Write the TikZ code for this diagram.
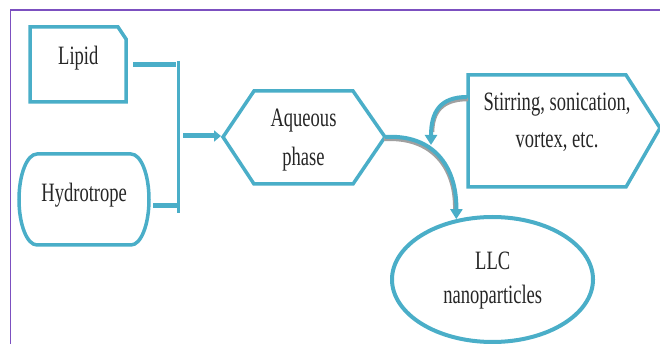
\documentclass[tikz,border=0pt]{standalone}
\usepackage{fontspec}
\newfontfamily\cond[FakeStretch=0.7]{Liberation Serif}
\usetikzlibrary{arrows.meta,shapes.geometric}
\definecolor{tealA}{RGB}{74,174,200}
\definecolor{frameP}{RGB}{124,80,192}
\definecolor{shadowG}{RGB}{160,160,160}
\begin{document}
\begin{tikzpicture}[x=1pt,y=-1pt,
  box/.style={draw=tealA, line width=3.5pt, line join=miter},
  lbl/.style={font=\cond\fontsize{26.5}{37}\selectfont, text=black!85, align=center, anchor=base, inner sep=0pt},
  bar/.style={draw=tealA, line width=5pt},
  thinbar/.style={draw=tealA, line width=2.5pt},
  curvearrow/.style={draw=tealA, line width=4pt, -{Triangle[width=12pt,length=10pt]}},
  shadowline/.style={draw=shadowG, line width=3.5pt}
]
\useasboundingbox (0,0) rectangle (660,344);
% frame
\draw[frameP, line width=1.2pt] (10.5,344) -- (10.5,10) -- (660,10);

% Lipid box
\draw[box] (30,27) -- (118,27) -- (126,39) -- (126,102) -- (30,102) -- cycle;
\node[lbl] (lipid) at (78.3,64.3) {Lipid};

% Hydrotrope (rounded box with elliptical corners)
\draw[box] (37,154) -- (131,154)
  .. controls (141,154) and (149,174.5) .. (149,199.5)
  .. controls (149,224.5) and (141,245) .. (131,245)
  -- (37,245)
  .. controls (27,245) and (19,224.5) .. (19,199.5)
  .. controls (19,174.5) and (27,154) .. (37,154) -- cycle;
\node[lbl] (hydro) at (84.2,201.7) {Hydrotrope};

% Aqueous phase hexagon
\draw[box] (223,137) -- (254,91) -- (353,91) -- (385,137) -- (353,184) -- (254,184) -- cycle;
\coordinate (aqW) at (221,136);
\coordinate (aqE) at (385,137);
\node[lbl, font=\cond\fontsize{26.5}{39}\selectfont] (aq) at (303.5,166) {Aqueous\\phase};

% Stirring box
\draw[box] (468,75) -- (626,75) -- (660,128) -- (626,187) -- (468,187) -- cycle;
\coordinate (stW) at (467,97);
\node[lbl, font=\cond\fontsize{26.5}{36.6}\selectfont] (stir) at (557,147.3) {Stirring, sonication,\\vortex, etc.};

% LLC ellipse
\node[ellipse, draw=tealA, line width=4pt, minimum width=201pt, minimum height=125pt, inner sep=0pt] (llc) at (492.5,279.5) {};
\node[lbl, font=\cond\fontsize{26.5}{34}\selectfont] (llctext) at (492.7,303.3) {LLC\\nanoparticles};

% bracket connector
\coordinate (lipidE) at (133,64.7);
\coordinate (lipidJ) at (176,64.7);
\coordinate (hydroE) at (153,205.7);
\coordinate (hydroJ) at (180,205.7);
\coordinate (busTop) at (178.7,61);
\coordinate (busBot) at (178.7,213);
\coordinate (busOut) at (183,136);
\draw[bar] (lipidE) -- (lipidJ);
\draw[bar] (hydroE) -- (hydroJ);
\draw[thinbar] (busTop) -- (busBot);
\draw[bar, -{Triangle[width=11pt,length=7pt]}] (busOut) -- (aqW);

% curved arrows with shadow
\draw[shadowline] ([shift={(-1,2.5)}]aqE) .. controls ([shift={(-1,2.5)}]432,134) and ([shift={(-1.5,2)}]457,165) .. ([shift={(-1.5,-10)}]llc.121);
\draw[curvearrow] (aqE) .. controls (432,134) and (457,165) .. (llc.121);
\draw[shadowline] ([shift={(1,2.5)}]stW) .. controls (441,99.5) and (433,113) .. (432.5,132);
\draw[curvearrow] (stW) .. controls (440,97) and (431,112) .. (431,145);
\end{tikzpicture}
\end{document}
